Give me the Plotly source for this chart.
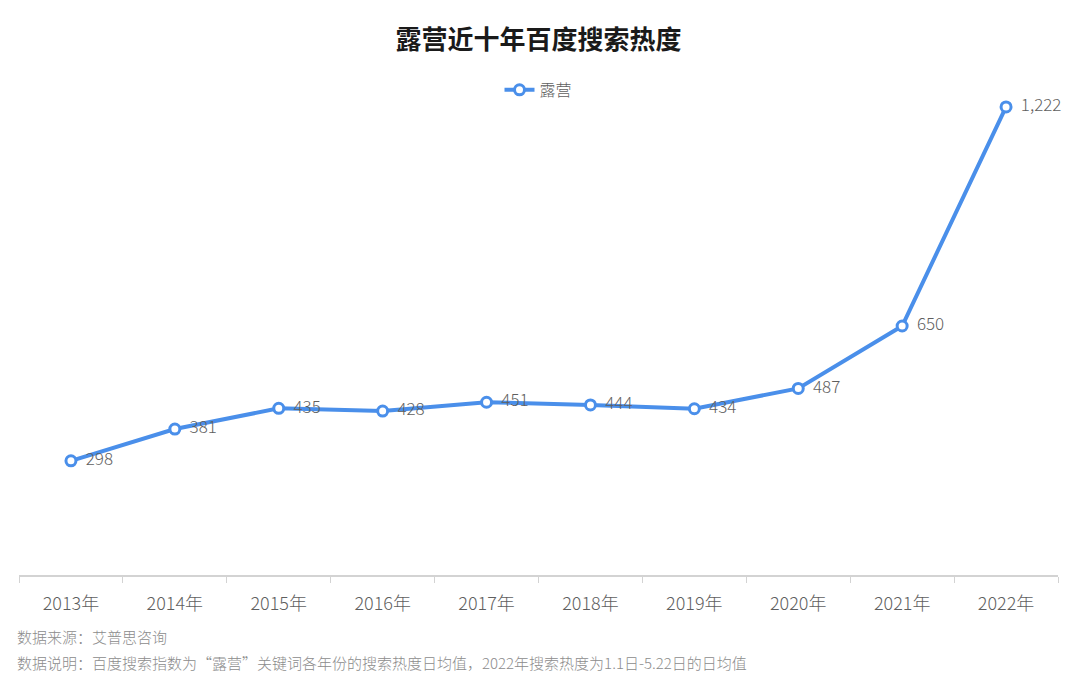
import plotly.graph_objects as go

years = ["2013年", "2014年", "2015年", "2016年", "2017年", "2018年", "2019年", "2020年", "2021年", "2022年"]
values = [298, 381, 435, 428, 451, 444, 434, 487, 650, 1222]
series_name = "露营"
title = "露营近十年百度搜索热度"
source = "数据来源：艾普思咨询"
note = "数据说明：百度搜索指数为“露营”关键词各年份的搜索热度日均值，2022年搜索热度为1.1日-5.22日的日均值"

FONT = "Noto Sans CJK SC"
BLUE = "#4a8fea"
GRAY = "#5f5f5f"

# page body has an 8px margin; the figure is sized to fit the window exactly
W, H = 1072, 674

fig = go.Figure()
fig.add_trace(go.Scatter(
    x=years, y=values, name=series_name,
    mode="lines+markers+text",
    line=dict(color=BLUE, width=4),
    marker=dict(size=10, color="white", line=dict(color=BLUE, width=3)),
    text=[f"  {v:,}" for v in values],
    textposition="middle right",
    textfont=dict(family=FONT, size=17, color=GRAY, weight=300),
    cliponaxis=False,
))

fig.update_layout(
    width=W, height=H,
    paper_bgcolor="white", plot_bgcolor="white",
    margin=dict(l=11, r=22, t=69, b=107, autoexpand=False),
    title=dict(text=title, x=0.5, xanchor="center", xref="paper",
               y=1 - 32 / H, yanchor="middle",
               font=dict(family=FONT, size=26, color="#1a1a1a", weight="bold")),
    showlegend=True,
    legend=dict(orientation="h", x=0.5, xanchor="center", y=0.974, yanchor="middle",
                font=dict(family=FONT, size=16, color=GRAY, weight=300),
                bgcolor="rgba(0,0,0,0)"),
    font=dict(family=FONT),
)
fig.update_xaxes(
    type="category", range=[-0.5, 9.5], showline=True, linecolor="#d3d3d3", linewidth=1.5,
    ticks="outside", tickson="boundaries", ticklen=6, tickcolor="#d3d3d3",
    ticklabelstandoff=12,
    showgrid=False, tickfont=dict(family=FONT, size=18, color=GRAY, weight=300),
)
fig.update_yaxes(range=[0, 1300], visible=False, showgrid=False, zeroline=False)

fig.add_annotation(text=source, xref="paper", yref="paper", x=-0.004, y=-0.1225,
                   xanchor="left", yanchor="middle", showarrow=False,
                   font=dict(family=FONT, size=15, color="#8c8c8c", weight=300))
fig.add_annotation(text=note, xref="paper", yref="paper", x=-0.004, y=-0.1747,
                   xanchor="left", yanchor="middle", showarrow=False,
                   font=dict(family=FONT, size=15, color="#8c8c8c", weight=300))

fig.write_html("out.html")
